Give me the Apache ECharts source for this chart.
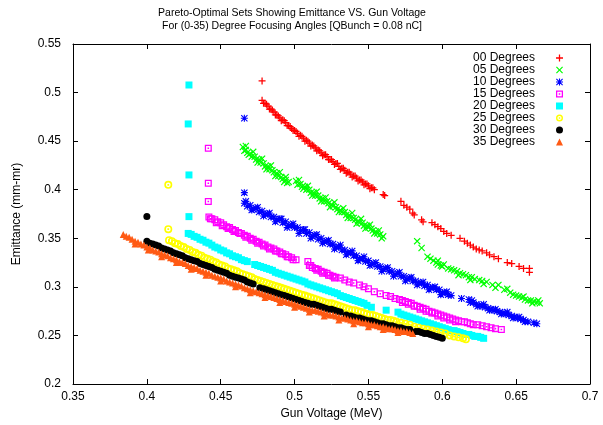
<!DOCTYPE html>
<html>
<head>
<meta charset="utf-8">
<script src="https://cdn.jsdelivr.net/npm/echarts@6/dist/echarts.min.js"></script>
<style>html,body{margin:0;padding:0;background:#fff}#c{width:603px;height:425px}</style>
</head>
<body>
<div id="c"></div>
<script>
const seriesNames = ['00 Degrees','05 Degrees','10 Degrees','15 Degrees','20 Degrees','25 Degrees','30 Degrees','35 Degrees'];
const xTicks = {min: 0.35, max: 0.7, interval: 0.05};
const yTicks = {min: 0.2, max: 0.55, interval: 0.05};

const deg00 = [[0.478,0.512],[0.478,0.492],[0.480,0.489],[0.482,0.486],[0.484,0.483],[0.486,0.480],[0.488,0.477],[0.490,0.474],[0.492,0.472],[0.494,0.469],[0.496,0.466],[0.498,0.463],[0.500,0.461],[0.502,0.458],[0.504,0.456],[0.506,0.453],[0.508,0.451],[0.510,0.448],[0.512,0.446],[0.514,0.443],[0.516,0.441],[0.518,0.438],[0.520,0.436],[0.522,0.434],[0.524,0.431],[0.526,0.429],[0.528,0.427],[0.530,0.424],[0.532,0.422],[0.534,0.420],[0.536,0.418],[0.538,0.416],[0.540,0.414],[0.542,0.412],[0.544,0.410],[0.546,0.408],[0.548,0.406],[0.550,0.404],[0.552,0.402],[0.554,0.400],
[0.479,0.489],[0.481,0.488],[0.483,0.483],[0.485,0.482],[0.487,0.477],[0.489,0.476],[0.491,0.471],[0.493,0.471],[0.495,0.466],[0.497,0.465],[0.499,0.461],[0.501,0.460],[0.503,0.455],[0.505,0.455],[0.507,0.450],[0.509,0.450],[0.511,0.445],[0.513,0.445],[0.515,0.440],[0.517,0.440],[0.519,0.435],[0.521,0.436],[0.523,0.431],[0.525,0.431],[0.527,0.426],[0.529,0.427],[0.531,0.421],[0.533,0.422],[0.535,0.417],[0.537,0.418],[0.539,0.413],[0.541,0.414],[0.543,0.409],[0.545,0.410],[0.547,0.405],[0.549,0.406],[0.551,0.401],[0.553,0.402],
[0.560,0.395],[0.561,0.394],[0.572,0.388],[0.574,0.384],[0.576,0.382],[0.578,0.380],[0.580,0.376],[0.581,0.374],[0.586,0.369],[0.587,0.367],[0.593,0.366],[0.595,0.364],[0.597,0.362],[0.599,0.360],[0.601,0.357],[0.603,0.355],[0.606,0.353],[0.612,0.350],[0.615,0.347],[0.617,0.345],[0.619,0.343],[0.621,0.341],[0.623,0.339],[0.625,0.338],[0.627,0.337],[0.630,0.335],[0.632,0.333],[0.635,0.331],[0.638,0.329],[0.644,0.325],[0.647,0.324],[0.652,0.321],[0.655,0.319],[0.659,0.319],[0.659,0.315]];

const deg05 = [[0.465,0.444],[0.466,0.440],[0.467,0.441],[0.468,0.438],[0.470,0.437],[0.471,0.434],[0.473,0.434],[0.474,0.431],[0.476,0.431],[0.477,0.428],[0.479,0.427],[0.480,0.424],[0.482,0.424],[0.483,0.421],[0.485,0.420],[0.486,0.418],[0.488,0.417],[0.489,0.414],[0.491,0.413],[0.492,0.411],[0.494,0.410],[0.495,0.407],[0.496,0.408],
[0.467,0.445],[0.469,0.436],[0.472,0.439],[0.475,0.428],[0.478,0.432],[0.481,0.421],[0.484,0.425],[0.487,0.414],[0.490,0.418],[0.493,0.408],[0.494,0.413],
[0.501,0.409],[0.502,0.405],[0.504,0.406],[0.505,0.403],[0.507,0.403],[0.508,0.400],[0.510,0.400],[0.511,0.397],[0.513,0.397],[0.514,0.394],[0.516,0.394],[0.517,0.391],[0.519,0.391],[0.520,0.388],[0.522,0.388],[0.523,0.386],[0.525,0.385],[0.526,0.383],[0.528,0.382],[0.529,0.380],[0.531,0.379],[0.532,0.377],[0.534,0.377],[0.535,0.374],[0.537,0.374],[0.538,0.371],[0.540,0.371],[0.541,0.369],[0.543,0.368],[0.544,0.366],[0.546,0.366],[0.547,0.363],[0.549,0.363],[0.550,0.361],[0.552,0.360],[0.553,0.358],[0.555,0.357],[0.556,0.355],[0.558,0.354],[0.560,0.352],
[0.503,0.410],[0.506,0.401],[0.509,0.404],[0.512,0.394],[0.515,0.398],[0.518,0.388],[0.521,0.392],[0.524,0.382],[0.527,0.387],[0.530,0.377],[0.533,0.381],[0.536,0.371],[0.539,0.376],[0.542,0.365],[0.545,0.370],[0.548,0.360],[0.551,0.364],[0.554,0.355],[0.557,0.358],[0.559,0.350],
[0.583,0.347],[0.586,0.340],[0.590,0.331],[0.592,0.329],[0.594,0.327],[0.596,0.325],[0.597,0.323],[0.599,0.322],[0.600,0.321],[0.601,0.323],[0.606,0.318],[0.608,0.317],[0.610,0.316],[0.612,0.314],[0.614,0.313],[0.616,0.312],[0.618,0.310],[0.620,0.310],[0.622,0.308],[0.625,0.307],[0.627,0.306],[0.630,0.305],[0.634,0.302],[0.638,0.302],[0.642,0.297],[0.644,0.298],[0.646,0.294],[0.648,0.292],[0.650,0.291],[0.652,0.290],[0.654,0.289],[0.656,0.287],[0.658,0.286],[0.660,0.286],[0.662,0.285],[0.664,0.284],[0.666,0.283],
[0.597,0.327],[0.604,0.319],[0.611,0.312],[0.619,0.307],[0.628,0.303],[0.636,0.299],[0.655,0.290],[0.661,0.283],[0.665,0.286]];

const deg10 = [[0.466,0.4735],[0.466,0.397],
[0.466,0.386],[0.468,0.383],[0.470,0.384],[0.472,0.380],[0.474,0.381],[0.476,0.377],[0.478,0.378],[0.480,0.375],[0.482,0.375],[0.484,0.372],[0.486,0.372],[0.488,0.369],[0.490,0.370],[0.492,0.366],[0.494,0.367],[0.496,0.363],[0.498,0.364],[0.500,0.361],[0.502,0.361],[0.504,0.358],[0.506,0.359],[0.508,0.355],[0.510,0.356],[0.512,0.352],[0.514,0.353],[0.516,0.349],[0.518,0.350],[0.520,0.347],[0.522,0.347],[0.524,0.344],[0.526,0.344],[0.528,0.341],[0.530,0.341],[0.532,0.338],[0.534,0.338],[0.536,0.335],[0.538,0.335],[0.540,0.332],[0.542,0.332],[0.544,0.329],[0.546,0.329],[0.548,0.326],[0.550,0.327],[0.552,0.323],[0.554,0.324],[0.556,0.321],[0.558,0.321],[0.560,0.318],[0.562,0.319],[0.564,0.316],[0.566,0.316],[0.568,0.313],[0.570,0.314],[0.572,0.311],[0.574,0.311],[0.576,0.308],[0.578,0.309],[0.580,0.306],[0.582,0.306],[0.584,0.304],[0.586,0.304],[0.588,0.301],[0.590,0.302],[0.592,0.299],[0.594,0.299],[0.596,0.297],[0.598,0.297],[0.600,0.294],[0.602,0.294],[0.604,0.292],[0.606,0.291],
[0.467,0.388],[0.471,0.379],[0.475,0.382],[0.479,0.373],[0.483,0.376],[0.487,0.367],[0.491,0.370],[0.495,0.361],[0.499,0.365],[0.503,0.355],[0.507,0.359],[0.511,0.350],[0.515,0.354],[0.519,0.345],[0.523,0.348],[0.527,0.339],[0.531,0.343],[0.535,0.333],[0.539,0.337],[0.543,0.327],[0.547,0.331],[0.551,0.322],[0.555,0.325],[0.559,0.316],[0.563,0.320],[0.567,0.311],[0.571,0.315],[0.575,0.306],[0.579,0.310],[0.583,0.302],[0.587,0.305],[0.591,0.297],[0.595,0.300],[0.599,0.292],[0.603,0.295],
[0.613,0.288],
[0.618,0.287],[0.619,0.284],[0.621,0.284],[0.623,0.282],[0.625,0.281],[0.627,0.280],[0.629,0.279],[0.631,0.278],[0.633,0.277],[0.635,0.276],[0.637,0.275],[0.639,0.274],[0.641,0.273],[0.643,0.272],[0.645,0.271],[0.647,0.270],[0.649,0.269],[0.651,0.268],[0.653,0.267],[0.655,0.266],[0.658,0.264],[0.662,0.263],[0.664,0.262],
[0.620,0.286],[0.624,0.280],[0.628,0.282],[0.632,0.276],[0.636,0.277],[0.640,0.272],[0.644,0.274],[0.648,0.268],[0.652,0.269],[0.656,0.264]];

const deg15 = [[0.4416,0.4427],[0.4416,0.4067],[0.4416,0.3878],
[0.442,0.372],[0.444,0.370],[0.446,0.369],[0.448,0.367],[0.450,0.366],[0.452,0.364],[0.454,0.362],[0.456,0.361],[0.458,0.359],[0.460,0.358],[0.462,0.356],[0.464,0.355],[0.466,0.353],[0.468,0.352],[0.470,0.350],[0.472,0.349],[0.474,0.347],[0.476,0.346],[0.478,0.344],[0.480,0.343],[0.482,0.341],[0.484,0.340],[0.486,0.339],[0.488,0.337],[0.490,0.336],[0.492,0.334],[0.494,0.333],[0.496,0.331],[0.498,0.330],[0.501,0.328],
[0.443,0.370],[0.447,0.366],[0.451,0.363],[0.455,0.360],[0.459,0.357],[0.463,0.355],[0.467,0.351],[0.471,0.348],[0.475,0.345],[0.479,0.342],[0.483,0.339],[0.487,0.337],[0.491,0.334],[0.495,0.331],[0.499,0.328],
[0.509,0.326],[0.510,0.322],[0.512,0.320],[0.514,0.319],[0.516,0.318],[0.518,0.316],[0.520,0.315],[0.522,0.314],[0.524,0.312],[0.526,0.311],[0.528,0.310],[0.531,0.309],[0.534,0.307],[0.537,0.305],[0.540,0.304],[0.544,0.302],[0.547,0.300],[0.550,0.298],[0.554,0.295],[0.558,0.293],[0.562,0.291],[0.565,0.290],[0.568,0.288],[0.571,0.287],[0.573,0.286],[0.575,0.285],[0.577,0.284],[0.579,0.283],[0.581,0.281],[0.583,0.280],[0.585,0.279],[0.587,0.278],[0.589,0.277],[0.591,0.275],[0.593,0.274],[0.595,0.273],[0.597,0.272],[0.599,0.271],[0.601,0.270],[0.603,0.269],[0.605,0.268],[0.607,0.267],[0.609,0.266],[0.611,0.265],[0.613,0.264],[0.615,0.264],[0.617,0.263],[0.619,0.262],[0.621,0.261],[0.624,0.261],[0.627,0.260],[0.630,0.259],[0.633,0.258],[0.636,0.257],[0.640,0.256],
[0.511,0.322],[0.515,0.317],[0.519,0.314],[0.523,0.312],[0.527,0.309],[0.573,0.284],[0.577,0.282],[0.581,0.280],[0.585,0.277],[0.589,0.275],[0.593,0.273],[0.597,0.270],[0.601,0.268],[0.605,0.266],[0.609,0.264]];

const deg20 = [[0.4285,0.5078],[0.428,0.4677],[0.4285,0.4152],[0.4285,0.3723],
[0.428,0.355],[0.430,0.354],[0.432,0.352],[0.434,0.351],[0.436,0.349],[0.438,0.348],[0.440,0.346],[0.442,0.345],[0.444,0.343],[0.446,0.341],[0.448,0.340],[0.450,0.338],[0.452,0.337],[0.454,0.335],[0.456,0.334],[0.458,0.332],[0.460,0.331],[0.462,0.330],[0.464,0.328],[0.466,0.327],[0.468,0.326],
[0.473,0.323],[0.475,0.322],[0.477,0.321],[0.479,0.320],[0.481,0.319],[0.483,0.318],[0.485,0.317],[0.487,0.315],[0.489,0.314],[0.491,0.313],[0.493,0.312],[0.495,0.311],[0.497,0.310],[0.499,0.309],[0.501,0.308],[0.503,0.307],[0.505,0.306],[0.507,0.305],[0.509,0.303],[0.511,0.302],[0.513,0.301],[0.515,0.300],[0.517,0.299],[0.519,0.298],[0.521,0.297],[0.523,0.296],[0.525,0.295],[0.527,0.294],[0.529,0.293],[0.531,0.291],[0.533,0.290],[0.535,0.289],[0.537,0.288],[0.539,0.287],[0.541,0.286],[0.543,0.285],[0.545,0.284],[0.547,0.283],[0.549,0.281],[0.552,0.279],
[0.562,0.276],
[0.570,0.274],[0.572,0.272],[0.574,0.271],[0.576,0.270],[0.578,0.269],[0.580,0.268],[0.582,0.267],[0.584,0.266],[0.586,0.265],[0.588,0.264],[0.590,0.263],[0.592,0.262],[0.594,0.261],[0.596,0.260],[0.598,0.259],[0.600,0.258],[0.602,0.257],[0.604,0.256],[0.606,0.255],[0.608,0.255],[0.610,0.254],[0.612,0.253],[0.614,0.252],[0.616,0.251],[0.618,0.251],[0.620,0.250],[0.622,0.249],[0.624,0.249],[0.626,0.248],[0.628,0.247]];

const deg25 = [[0.4145,0.405],[0.4145,0.3594],
[0.415,0.348],[0.417,0.347],[0.419,0.345],[0.421,0.344],[0.423,0.342],[0.425,0.341],[0.427,0.339],[0.429,0.338],[0.431,0.336],[0.433,0.335],[0.435,0.333],[0.437,0.332],[0.439,0.330],[0.441,0.329],[0.443,0.328],[0.445,0.326],[0.447,0.325],[0.449,0.323],[0.451,0.322],[0.453,0.321],[0.455,0.319],[0.457,0.318],[0.459,0.317],[0.461,0.316],[0.463,0.314],[0.465,0.313],[0.467,0.312],[0.469,0.311],[0.471,0.310],[0.473,0.308],[0.475,0.307],[0.477,0.306],[0.479,0.305],[0.481,0.304],[0.483,0.303],[0.485,0.302],[0.487,0.301],[0.489,0.300],[0.491,0.299],[0.493,0.298],[0.495,0.297],[0.497,0.296],[0.499,0.295],[0.501,0.294],[0.503,0.293],[0.505,0.292],[0.507,0.291],[0.509,0.290],[0.511,0.289],[0.513,0.288],[0.515,0.287],[0.517,0.286],[0.519,0.285],[0.521,0.284],[0.523,0.283],[0.525,0.283],[0.527,0.282],[0.529,0.281],[0.531,0.280],[0.533,0.279],[0.535,0.278],[0.537,0.277],[0.539,0.276],[0.541,0.276],[0.543,0.275],[0.545,0.274],[0.547,0.273],[0.549,0.272],[0.551,0.271],[0.553,0.271],[0.555,0.270],[0.557,0.269],[0.559,0.268],[0.561,0.267],[0.563,0.266],[0.565,0.266],[0.567,0.265],[0.569,0.264],[0.572,0.263],[0.575,0.262],[0.578,0.261],[0.581,0.259],[0.584,0.258],[0.587,0.257],[0.590,0.256],[0.593,0.255],[0.596,0.254],[0.599,0.253],[0.602,0.252],[0.605,0.250],[0.608,0.249],[0.611,0.248],[0.614,0.247],[0.616,0.246]];

const deg30 = [[0.400,0.3723],
[0.400,0.347],[0.402,0.345],[0.404,0.344],[0.406,0.343],[0.408,0.342],[0.410,0.340],[0.412,0.339],[0.414,0.338],[0.416,0.337],[0.418,0.335],[0.420,0.334],[0.422,0.333],[0.424,0.332],[0.426,0.330],[0.428,0.329],[0.430,0.328],[0.432,0.327],[0.434,0.326],[0.436,0.324],[0.438,0.323],[0.440,0.322],[0.442,0.321],[0.444,0.320],[0.446,0.318],[0.448,0.317],[0.450,0.316],[0.452,0.315],[0.454,0.314],[0.456,0.312],[0.458,0.311],[0.460,0.310],[0.462,0.309],[0.464,0.308],[0.466,0.307],[0.468,0.305],[0.470,0.304],[0.472,0.303],
[0.4765,0.299],[0.479,0.298],[0.481,0.297],[0.483,0.296],[0.485,0.295],[0.487,0.294],[0.489,0.293],[0.491,0.292],[0.493,0.291],[0.495,0.290],[0.497,0.289],[0.499,0.288],[0.501,0.287],[0.503,0.286],[0.505,0.285],[0.507,0.284],[0.509,0.283],[0.511,0.282],[0.513,0.282],[0.515,0.281],[0.517,0.280],[0.519,0.279],[0.521,0.278],[0.523,0.277],[0.525,0.277],[0.527,0.276],[0.529,0.275],[0.531,0.274],
[0.535,0.271],[0.538,0.270],[0.540,0.269],[0.542,0.268],[0.544,0.268],[0.546,0.267],[0.548,0.266],[0.550,0.265],[0.552,0.265],[0.554,0.264],[0.556,0.263],[0.558,0.262],[0.560,0.262],[0.562,0.261],[0.564,0.260],[0.566,0.260],[0.568,0.259],[0.570,0.258],[0.572,0.258],[0.574,0.257],[0.576,0.256],[0.578,0.256],
[0.582,0.254],[0.584,0.254],[0.586,0.253],[0.588,0.252],[0.590,0.252],[0.592,0.251],[0.594,0.250],[0.596,0.249],[0.598,0.248],[0.600,0.247]];

const deg35 = [[0.384,0.354],[0.386,0.352],[0.388,0.351],[0.390,0.349],[0.392,0.347],[0.394,0.346],[0.396,0.344],[0.398,0.343],[0.400,0.341],[0.402,0.340],[0.404,0.338],[0.406,0.337],[0.408,0.336],[0.410,0.334],[0.412,0.333],[0.414,0.332],[0.416,0.330],[0.418,0.329],[0.420,0.328],[0.422,0.326],[0.424,0.325],[0.426,0.324],[0.428,0.322],[0.430,0.321],[0.432,0.320],[0.434,0.319],[0.436,0.317],[0.438,0.316],[0.440,0.315],[0.442,0.314],[0.444,0.312],[0.446,0.311],[0.448,0.310],[0.450,0.309],[0.452,0.308],[0.454,0.306],[0.456,0.305],[0.458,0.304],[0.460,0.303],[0.462,0.302],[0.464,0.301],[0.466,0.299],[0.468,0.298],[0.470,0.297],[0.472,0.296],[0.474,0.295],[0.476,0.294],[0.478,0.293],[0.480,0.292],[0.482,0.291],[0.484,0.290],[0.486,0.289],[0.488,0.288],[0.490,0.287],[0.492,0.286],[0.494,0.285],[0.496,0.284],[0.498,0.283],[0.500,0.282],[0.502,0.281],[0.504,0.280],[0.506,0.279],[0.508,0.278],[0.510,0.277],[0.512,0.276],[0.514,0.276],[0.516,0.275],[0.518,0.274],[0.520,0.273],[0.522,0.272],[0.524,0.271],[0.526,0.271],[0.528,0.270],[0.530,0.269],[0.532,0.268],[0.534,0.268],[0.536,0.267],[0.538,0.266],[0.540,0.265],[0.542,0.265],[0.544,0.264],[0.546,0.263],[0.548,0.263],[0.550,0.262],[0.552,0.261],[0.554,0.261],[0.556,0.260],[0.558,0.259],[0.560,0.259],[0.562,0.258],[0.564,0.257],[0.566,0.257],[0.568,0.256],[0.570,0.255],[0.572,0.255],[0.574,0.254],[0.576,0.254],[0.578,0.253],[0.580,0.252],
[0.392,0.344],[0.401,0.338],[0.410,0.331],[0.420,0.325],[0.430,0.318],[0.440,0.312],[0.450,0.306],[0.460,0.300],[0.470,0.294],[0.480,0.289],[0.490,0.284],[0.500,0.279],[0.510,0.274],[0.520,0.270],[0.530,0.266],[0.540,0.262],[0.550,0.259],[0.560,0.256],[0.570,0.253]];

const seriesData = [deg00, deg05, deg10, deg15, deg20, deg25, deg30, deg35];
const colors = ['#ff0000','#00ff00','#0000ff','#ff00ff','#00ffff','#ffff00','#000000','#ff5a14'];

const plusPath = 'path://M4.1,0h1.8v4.1h4.1v1.8h-4.1v4.1h-1.8v-4.1h-4.1v-1.8h4.1z';
const xPath = 'path://M1.2,0L5,3.8L8.8,0L10,1.2L6.2,5L10,8.8L8.8,10L5,6.2L1.2,10L0,8.8L3.8,5L0,1.2Z';
const starPath = 'path://M4.2,0h1.6v4.2h4.2v1.6h-4.2v4.2h-1.6v-4.2h-4.2v-1.6h4.2z M1.1,0L5,3.9L8.9,0L10,1.1L6.1,5L10,8.9L8.9,10L5,6.1L1.1,10L0,8.9L3.9,5L0,1.1Z';
const boxDotPath = 'path://M0,0H10V10H0Z M1.8,1.8V8.2H8.2V1.8Z M3.9,3.9H6.1V6.1H3.9Z';
const ringDotPath = 'path://M5,0A5,5 0 1,1 5,10A5,5 0 1,1 5,0Z M5,2A3,3 0 1,0 5,8A3,3 0 1,0 5,2Z M3.9,3.9H6.1V6.1H3.9Z';
const symbols = [plusPath, xPath, starPath, boxDotPath, 'rect', ringDotPath, 'circle', 'triangle'];
const sizes = [7, 7, 7, 7, 7, 8, 7, 7];

const FONT = 'Liberation Sans, Arial, Helvetica, sans-serif';
const chart = echarts.init(document.getElementById('c'), null, {renderer: 'canvas'});

const series = seriesNames.map((name, i) => ({
  name: name,
  type: 'scatter',
  data: seriesData[i],
  symbol: symbols[i],
  symbolSize: sizes[i],
  itemStyle: {color: colors[i], opacity: 1},
  emphasis: {disabled: true},
  xAxisIndex: 0, yAxisIndex: 0
}));

const axisCommon = {
  type: 'value',
  axisLine: {show: true, onZero: false, lineStyle: {color: '#000', width: 1}},
  axisTick: {show: true, inside: true, length: 5, lineStyle: {color: '#000', width: 1}},
  splitLine: {show: false}
};

chart.setOption({
  animation: false,
  backgroundColor: '#fff',
  title: {
    text: 'Pareto-Optimal Sets Showing Emittance VS. Gun Voltage\nFor (0-35) Degree Focusing Angles [QBunch = 0.08 nC]',
    left: 287, top: 2, textAlign: 'center',
    textStyle: {fontFamily: FONT, fontSize: 10.5, fontWeight: 'normal', color: '#000', lineHeight: 13}
  },
  legend: {
    orient: 'vertical', align: 'right', right: 35, top: 47,
    itemWidth: 7, itemHeight: 7, itemGap: 0,
    data: seriesNames,
    textStyle: {fontFamily: FONT, fontSize: 12, color: '#000', lineHeight: 11.8, padding: [0, 16, 0, 0]},
    selectedMode: false
  },
  grid: {left: 73, right: 13, top: 44, bottom: 41, outerBoundsMode: 'none', containLabel: false},
  xAxis: [
    Object.assign({}, axisCommon, {
      position: 'bottom', min: xTicks.min, max: xTicks.max, interval: xTicks.interval,
      name: 'Gun Voltage (MeV)', nameLocation: 'middle', nameGap: 24,
      nameTextStyle: {fontFamily: FONT, fontSize: 12, color: '#000'},
      axisLabel: {fontFamily: FONT, fontSize: 12, color: '#000', margin: 7}
    }),
    Object.assign({}, axisCommon, {
      position: 'top', min: xTicks.min, max: xTicks.max, interval: xTicks.interval,
      axisLabel: {show: false}
    })
  ],
  yAxis: [
    Object.assign({}, axisCommon, {
      position: 'left', min: yTicks.min, max: yTicks.max, interval: yTicks.interval,
      name: 'Emittance (mm-mr)', nameLocation: 'middle', nameGap: 50, nameRotate: 90,
      nameTextStyle: {fontFamily: FONT, fontSize: 12, color: '#000'},
      axisLabel: {fontFamily: FONT, fontSize: 12, color: '#000', margin: 12}
    }),
    Object.assign({}, axisCommon, {
      position: 'right', min: yTicks.min, max: yTicks.max, interval: yTicks.interval,
      axisLabel: {show: false}
    })
  ],
  series: series
});
</script>
</body>
</html>
